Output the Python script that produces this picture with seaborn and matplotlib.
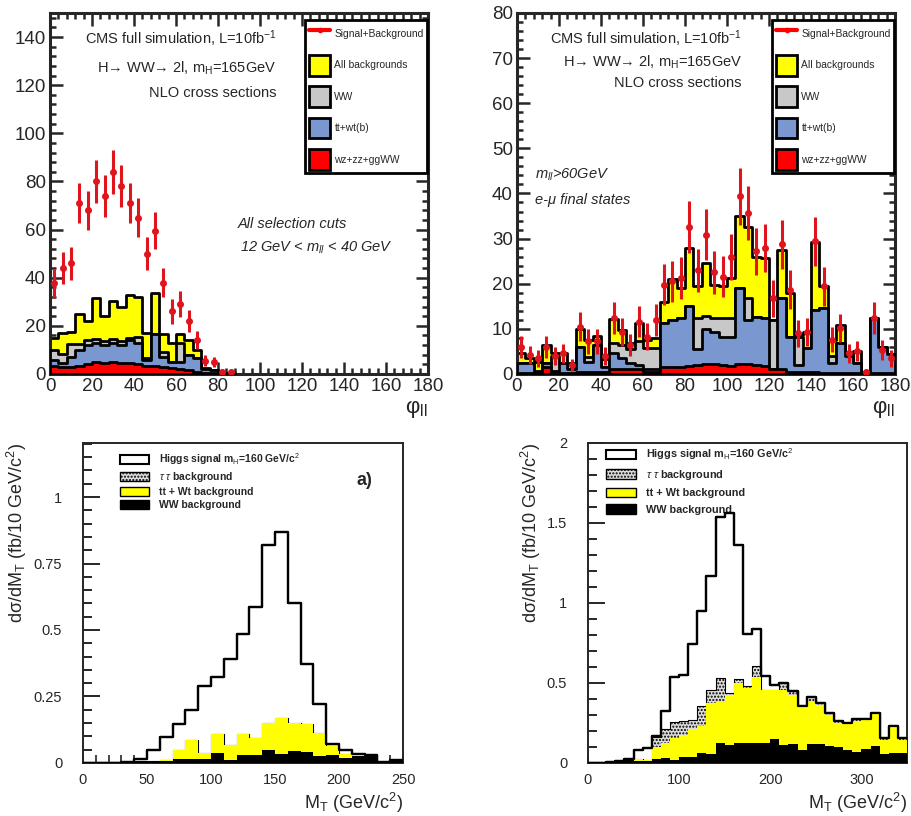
import numpy as np
import pandas as pd
import matplotlib
matplotlib.use("Agg")
import matplotlib.pyplot as plt
from matplotlib.patches import Patch
from matplotlib.lines import Line2D
from matplotlib.ticker import MultipleLocator
import seaborn as sns

# ---------------- top left: phi_ll, 12 < m_ll < 40 GeV (4 deg bins) ----------------
tl_edges = np.arange(0, 92, 4)
tl_data = [37.7, 44, 46, 71, 68, 80, 74, 84, 78, 71, 65, 50, 59.5, 38, 26, 29, 22, 14, 5.5, 5, 1, 0.7]
tl_err = [6, 6.5, 6.8, 8.4, 8.2, 9, 8.6, 9.2, 8.8, 8.4, 8, 7, 7.7, 6.2, 5.1, 5.4, 4.7, 3.7, 2.3, 2.2, 1, 0.8]
tl_allbkg = [15, 17, 17.5, 25, 22, 31.5, 24, 30.5, 28, 33, 32, 17, 33.6, 16.5, 12.7, 16.5, 14, 10, 2.5, 1.8, 0.5, 0.2]
tl_ww = [10, 8.5, 12.5, 12.5, 14, 14.5, 13.5, 14.5, 13.5, 15, 15.5, 6.5, 16.5, 9, 5, 13, 8, 6.5, 2, 1.5, 0.3, 0]
tl_ttwt = [6, 4.5, 7, 10, 12, 13, 12, 13, 12, 14, 13, 6, 16.5, 7, 5, 5, 8, 6.5, 2, 1.5, 0.3, 0]
tl_other = [3.5, 3, 3, 3.5, 4, 5, 4.5, 5, 4.5, 4.5, 4, 3.5, 3.5, 3, 2.5, 2, 1.5, 1, 0.5, 0.3, 0, 0]

# ---------------- top right: phi_ll, m_ll > 60 GeV, e-mu ----------------
tr_edges = np.arange(0, 184, 4)
tr_data = [6, 4.2, 3.5, 6, 4, 4.6, 2, 10.5, 7.2, 7.2, 4, 12.4, 9.4, 6.4, 11.6, 8.3, 12, 19.8, 20.5, 21.3,
           32.6, 23, 30.9, 22.5, 21.6, 26, 39.4, 35.7, 27.2, 28, 16.8, 28.7, 18.7, 9, 9.4, 29.4, 19.4, 7.6,
           10.2, 4.6, 5, 0.5, 12.4, 5.3, 3.5]
tr_err = [2.5, 2, 1.9, 2.5, 2, 2.1, 1.4, 3.3, 2.7, 2.7, 2, 3.5, 3.1, 2.5, 3.4, 2.9, 3.5, 4.5, 4.5, 4.6,
          5.7, 4.8, 5.6, 4.7, 4.6, 5.1, 6.3, 6, 5.2, 5.3, 4.1, 5.4, 4.3, 3, 3.1, 5.4, 4.4, 2.8, 3.2, 2.1,
          2.2, 0.7, 3.5, 2.3, 1.9]
tr_allbkg = [4.7, 3.5, 2.7, 6.4, 4.6, 4.6, 2.4, 10, 7.6, 8.5, 3.3, 12.2, 9.8, 6.8, 11.4, 7.6, 8, 16, 21, 19,
             28, 19.4, 24.6, 19.8, 19.4, 21.3, 35, 32.6, 26, 25.7, 12, 27.4, 18, 8.7, 9.4, 29.2, 19.6, 7.6,
             10.9, 4.2, 5.2, 0, 12, 5.3, 4.4]
tr_ww = [2.4, 2.4, 0.7, 2.5, 3.9, 2.4, 1.2, 6, 3.8, 6.4, 1.6, 6.8, 6.4, 5.5, 7.2, 5.7, 5.7, 11.4, 12, 12.4,
         15, 12.5, 12.8, 12.3, 12.5, 12.5, 19, 16.8, 12.7, 12.4, 12, 16.8, 8.3, 8.3, 5.7, 14.2, 14.6, 4,
         6.8, 3.9, 2.5, 0, 12.4, 6, 4.4]
tr_ttwt = [2.4, 2.4, 0.3, 2.5, 0.6, 2.4, 1.2, 6, 2.7, 6.4, 1.6, 4.7, 3.5, 2.4, 2, 1.2, 1.2, 11.4, 12, 12.4,
           15, 5.5, 10, 9.4, 8.3, 8.3, 19, 12, 12.7, 12.4, 1.2, 16.8, 8.3, 2, 5.7, 14.2, 14.6, 2.4,
           6.8, 3.9, 2.5, 0, 12.4, 6, 4.4]
tr_other = [0.3, 0.3, 0.3, 1.5, 0.3, 0.3, 0.3, 0.5, 0.5, 0.5, 0.5, 1, 1, 1, 1, 0.5, 0.5, 1.5, 1.5, 1.5,
            1.8, 2, 2.2, 2.2, 2, 1.8, 2.3, 2.2, 2, 1.8, 1, 1, 0.5, 0.5, 0.5, 0.5, 0.3, 0.3, 0.3, 0.3,
            0.3, 0.5, 0.3, 0.3, 0.3]

# ---------------- bottom left: M_T, 10 GeV bins (stacked levels) ----------------
bl_edges = np.arange(0, 260, 10)
bl_signal = [0, 0, 0, 0.004, 0.016, 0.048, 0.098, 0.146, 0.2, 0.29, 0.324, 0.39, 0.485, 0.588, 0.82,
             0.867, 0.6, 0.372, 0.22, 0.073, 0.048, 0.035, 0.029, 0.004, 0.01]
bl_tautau = [0, 0, 0, 0.004, 0.008, 0.008, 0.012, 0.048, 0.085, 0.038, 0.11, 0.069, 0.11, 0.095, 0.15,
             0.17, 0.15, 0.146, 0.113, 0.063, 0.035, 0.035, 0.029, 0.004, 0.01]
bl_ttwt = [0, 0, 0, 0.004, 0.008, 0.008, 0.012, 0.048, 0.085, 0.038, 0.11, 0.069, 0.11, 0.095, 0.15,
           0.17, 0.15, 0.146, 0.113, 0.063, 0.035, 0.035, 0.029, 0.004, 0.01]
bl_ww = [0, 0, 0, 0.004, 0.008, 0.008, 0.008, 0.016, 0.016, 0.016, 0.038, 0.013, 0.029, 0.029, 0.05,
         0.035, 0.045, 0.041, 0.025, 0.029, 0.02, 0.028, 0.029, 0.004, 0.01]
bl_yticks = [0, 0.25, 0.5, 0.75, 1]
bl_ylabels = ["0", "0.25", "0.5", "0.75", "1"]

# ---------------- bottom right: M_T, 10 GeV bins (stacked levels) ----------------
br_edges = np.arange(0, 360, 10)
br_signal = [0, 0, 0.006, 0.012, 0.027, 0.08, 0.094, 0.169, 0.326, 0.54, 0.547, 0.743, 0.952, 1.17, 1.54,
             1.562, 1.363, 0.806, 0.835, 0.545, 0.489, 0.5, 0.45, 0.357, 0.415, 0.374, 0.31, 0.265, 0.252,
             0.273, 0.273, 0.315, 0.154, 0.234, 0.154]
br_tautau = [0, 0, 0, 0.006, 0.027, 0.027, 0.017, 0.165, 0.213, 0.259, 0.262, 0.27, 0.353, 0.457, 0.534,
             0.436, 0.526, 0.482, 0.607, 0.457, 0.457, 0.5, 0.447, 0.357, 0.415, 0.374, 0.31, 0.265, 0.252,
             0.273, 0.273, 0.315, 0.154, 0.234, 0.154]
br_ttwt = [0, 0, 0, 0.006, 0.027, 0.027, 0.017, 0.1, 0.123, 0.155, 0.175, 0.21, 0.228, 0.374, 0.378,
           0.426, 0.5, 0.468, 0.54, 0.457, 0.457, 0.457, 0.426, 0.357, 0.384, 0.36, 0.3, 0.248, 0.25,
           0.258, 0.27, 0.309, 0.146, 0.23, 0.146]
br_ww = [0, 0, 0, 0.006, 0.027, 0.012, 0.015, 0.025, 0.03, 0.019, 0.04, 0.04, 0.06, 0.056, 0.123,
         0.11, 0.123, 0.123, 0.123, 0.127, 0.15, 0.115, 0.119, 0.08, 0.119, 0.119, 0.106, 0.098, 0.08,
         0.07, 0.085, 0.106, 0.056, 0.065, 0.065]
br_yticks = [0, 0.5, 1, 1.5, 2]
br_ylabels = ["0", "0.5", "1", "1.5", "2"]

top_labels = ["Signal+Background", "All backgrounds", "WW", "tt+wt(b)", "wz+zz+ggWW"]
bot_labels = ["Higgs signal m$_{\\mathrm{H}}$=160 GeV/c$^{2}$", "$\\tau\\ \\tau$ background",
              "tt + Wt background", "WW background"]

YEL = "#ffff00"
GRAY = "#c8c8c8"
BLUE = "#7b97cf"
RED = "#ff0000"
PTS = "#e0141c"

sns.set_style("ticks")
plt.rcParams['font.family'] = ['Liberation Sans', 'DejaVu Sans']
plt.rcParams['mathtext.fontset'] = 'custom'
plt.rcParams['mathtext.rm'] = 'Liberation Sans'
plt.rcParams['mathtext.it'] = 'Liberation Sans:italic'
plt.rcParams['mathtext.bf'] = 'Liberation Sans:bold'


def layer(ax, edges, vals, fill=True, **kw):
    df = pd.DataFrame({"x": (edges[:-1] + edges[1:]) / 2, "w": vals})
    sns.histplot(data=df, x="x", weights="w", bins=list(edges), element="step",
                 fill=fill, ax=ax, **kw)


fig = plt.figure(figsize=(9.11, 8.16), dpi=100)
ax_tl = fig.add_axes([0.0549, 0.5417, 0.4149, 0.4424])
ax_tr = fig.add_axes([0.5675, 0.5417, 0.4149, 0.4424])
ax_bl = fig.add_axes([0.0911, 0.0650, 0.3513, 0.3922])
ax_br = fig.add_axes([0.6454, 0.0650, 0.3502, 0.3922])

# -------- top panels --------
for ax, edges, data, err, allb, ww, tt, oth in [
        (ax_tl, tl_edges, tl_data, tl_err, tl_allbkg, tl_ww, tl_ttwt, tl_other),
        (ax_tr, tr_edges, tr_data, tr_err, tr_allbkg, tr_ww, tr_ttwt, tr_other)]:
    for vals, col, z in [(allb, YEL, 2), (ww, GRAY, 3), (tt, BLUE, 4), (oth, RED, 5)]:
        layer(ax, edges, vals, color=col, alpha=1, edgecolor="black", linewidth=2.0, zorder=z)
    centers = (edges[:-1] + edges[1:]) / 2
    ax.errorbar(centers, data, yerr=err, fmt='o', color=PTS, ecolor=PTS, ms=4,
                elinewidth=2.2, capsize=0, zorder=10)
    ax.set_xlim(0, 180)
    ax.xaxis.set_major_locator(MultipleLocator(20))
    ax.xaxis.set_minor_locator(MultipleLocator(4))
    ax.tick_params(which='both', direction='in', top=True, right=True, width=1.8,
                   labelsize=13.5, pad=3)
    ax.tick_params(which='major', length=9)
    ax.tick_params(which='minor', length=4.5)
    for s in ax.spines.values():
        s.set_linewidth(2.2)
    ax.set_ylabel("")
    ax.set_xlabel("\u03c6$_{\\mathrm{ll}}$", loc='right', fontsize=16, labelpad=2)

    handles = [Line2D([], [], color=RED, lw=3, marker='o', ms=3),
               Patch(facecolor=YEL, edgecolor='black', lw=2),
               Patch(facecolor=GRAY, edgecolor='black', lw=2),
               Patch(facecolor=BLUE, edgecolor='black', lw=2),
               Patch(facecolor=RED, edgecolor='black', lw=2)]
    leg = ax.legend(handles, top_labels, loc='upper left',
                    bbox_to_anchor=(0.675, 0.557, 0.322, 0.423), mode='expand',
                    fontsize=7.4, handlelength=2.1, handleheight=2.7, labelspacing=1.05,
                    handletextpad=0.4, borderpad=0.35, borderaxespad=0, frameon=True,
                    fancybox=False, edgecolor='black', framealpha=1)
    leg.get_frame().set_linewidth(2)
    leg.set_zorder(20)

ax_tl.set_ylim(0, 150)
ax_tl.yaxis.set_major_locator(MultipleLocator(20))
ax_tl.yaxis.set_minor_locator(MultipleLocator(4))
ax_tr.set_ylim(0, 80)
ax_tr.yaxis.set_major_locator(MultipleLocator(10))
ax_tr.yaxis.set_minor_locator(MultipleLocator(2))

# header texts
head2 = "H\u2192 WW\u2192 2l, m$_{\\mathrm{H}}$=165GeV"
ax_tl.text(0.60, 0.928, "CMS full simulation, L=10fb$^{-1}$", transform=ax_tl.transAxes,
           ha='right', va='center', fontsize=10.5)
ax_tl.text(0.60, 0.848, head2, transform=ax_tl.transAxes,
           ha='right', va='center', fontsize=10.5)
ax_tl.text(0.60, 0.778, "NLO cross sections", transform=ax_tl.transAxes,
           ha='right', va='center', fontsize=10.5)
ax_tl.text(0.497, 0.415, "All selection cuts", transform=ax_tl.transAxes,
           ha='left', va='center', fontsize=10.5, style='italic')
ax_tl.text(0.502, 0.349, "12 GeV < $\\mathit{m_{ll}}$ < 40 GeV", transform=ax_tl.transAxes,
           ha='left', va='center', fontsize=10.5, style='italic')

ax_tr.text(0.595, 0.928, "CMS full simulation, L=10fb$^{-1}$", transform=ax_tr.transAxes,
           ha='right', va='center', fontsize=10.5)
ax_tr.text(0.595, 0.864, head2, transform=ax_tr.transAxes,
           ha='right', va='center', fontsize=10.5)
ax_tr.text(0.595, 0.806, "NLO cross sections", transform=ax_tr.transAxes,
           ha='right', va='center', fontsize=10.5)
ax_tr.text(0.048, 0.551, "$\\mathit{m_{ll}}$>60GeV", transform=ax_tr.transAxes,
           ha='left', va='center', fontsize=10.5, style='italic')
ax_tr.text(0.048, 0.482, "e-\u03bc final states", transform=ax_tr.transAxes,
           ha='left', va='center', fontsize=10.5, style='italic')

# -------- bottom panels --------
for ax, edges, sig, tau, tt, ww, xmax, ymax, yt, yl, ymin_loc in [
        (ax_bl, bl_edges, bl_signal, bl_tautau, bl_ttwt, bl_ww, 250, 1.2035, bl_yticks, bl_ylabels, 0.05),
        (ax_br, br_edges, br_signal, br_tautau, br_ttwt, br_ww, 350, 2.0, br_yticks, br_ylabels, 0.1)]:
    layer(ax, edges, sig, color="white", alpha=1, edgecolor="black", linewidth=1.6, zorder=2)
    layer(ax, edges, tau, color="#dcdcdc", alpha=1, edgecolor="black", linewidth=0.8,
          hatch='.....', zorder=3)
    layer(ax, edges, tt, color=YEL, alpha=1, edgecolor="none", linewidth=0, zorder=4)
    layer(ax, edges, ww, color="black", alpha=1, edgecolor="none", linewidth=0, zorder=5)
    layer(ax, edges, sig, fill=False, color="black", linewidth=1.6, zorder=6)
    ax.set_xlim(0, xmax)
    ax.set_ylim(0, ymax)
    ax.set_yticks(yt)
    ax.set_yticklabels(yl)
    ax.yaxis.set_minor_locator(MultipleLocator(ymin_loc))
    ax.tick_params(axis='y', which='both', direction='in', width=1.4, labelsize=10.5, pad=15)
    ax.tick_params(axis='y', which='major', length=12)
    ax.tick_params(axis='y', which='minor', length=6.5)
    ax.tick_params(axis='x', which='both', direction='in', width=1.2, labelsize=10.5, pad=7, length=6)
    for s in ax.spines.values():
        s.set_linewidth(1.4)
    ax.set_ylabel("d\u03c3/dM$_{\\mathrm{T}}$ (fb/10 GeV/c$^{2}$)", loc='top', fontsize=13, labelpad=3)
    ax.set_xlabel("M$_{\\mathrm{T}}$ (GeV/c$^{2}$)", loc='right', fontsize=13, labelpad=3)

ax_bl.set_xticks([0, 50, 100, 150, 200, 250])
ax_bl.xaxis.set_minor_locator(MultipleLocator(10))
ax_br.set_xticks([0, 100, 200, 300])

bot_handles = [Patch(facecolor='white', edgecolor='black', lw=1.5),
               Patch(facecolor='#dcdcdc', edgecolor='black', hatch='.....', lw=1),
               Patch(facecolor=YEL, edgecolor='black', lw=1),
               Patch(facecolor='black', edgecolor='black', lw=1)]
ax_bl.legend(bot_handles, bot_labels, loc='upper left', bbox_to_anchor=(0.116, 0.975),
             prop={'weight': 'bold', 'size': 7.5}, handlelength=2.8, handleheight=0.95,
             labelspacing=0.3, handletextpad=0.9, borderpad=0, borderaxespad=0, frameon=False)
ax_br.legend(bot_handles, bot_labels, loc='upper left', bbox_to_anchor=(0.056, 0.99),
             prop={'weight': 'bold', 'size': 7.8}, handlelength=2.8, handleheight=0.95,
             labelspacing=0.55, handletextpad=0.9, borderpad=0, borderaxespad=0, frameon=False)
ax_bl.text(0.88, 0.884, "a)", transform=ax_bl.transAxes, ha='center', va='center',
           fontsize=13, fontweight='bold')

fig.savefig("out.png", dpi=100)
